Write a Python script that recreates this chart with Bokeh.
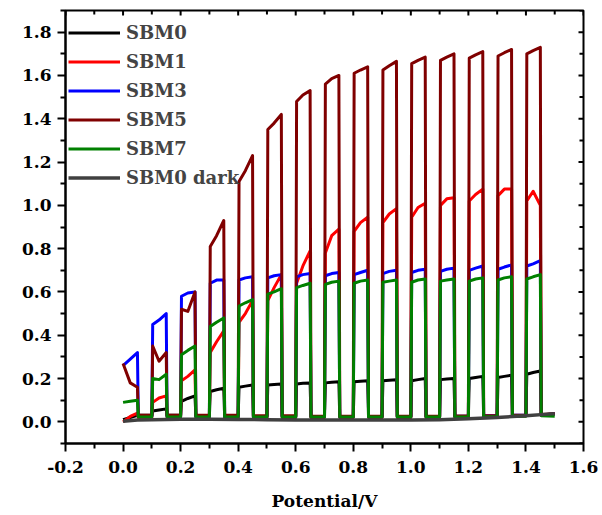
import math
from bokeh.plotting import figure
from bokeh.models import Range1d, FixedTicker, PrintfTickFormatter, Legend, LegendItem
from bokeh.embed import file_html
from bokeh.resources import INLINE

# ---------------- data ----------------
# potentials (V) where the light is switched on / off during the chopped sweep
pulse_on = [0.00, 0.10, 0.20, 0.30, 0.40, 0.50, 0.60, 0.70, 0.80, 0.90, 1.00, 1.10, 1.20, 1.30, 1.40]
pulse_off = [0.05, 0.15, 0.25, 0.35, 0.45, 0.55, 0.65, 0.75, 0.85, 0.95, 1.05, 1.15, 1.25, 1.35, 1.45]
sweep_end = 1.50

# current at start / middle / end of each light-on period, and dark level after each pulse (+ final)
sbm0_start = [0.010, 0.050, 0.095, 0.140, 0.160, 0.170, 0.175, 0.180, 0.185, 0.190, 0.190, 0.195, 0.200, 0.205, 0.220]
sbm0_mid   = [0.020, 0.055, 0.108, 0.148, 0.165, 0.172, 0.178, 0.183, 0.188, 0.192, 0.195, 0.198, 0.205, 0.210, 0.228]
sbm0_end   = [0.030, 0.060, 0.120, 0.155, 0.170, 0.175, 0.180, 0.185, 0.190, 0.195, 0.200, 0.200, 0.210, 0.215, 0.235]
sbm0_dark  = [0.030, 0.030, 0.025, 0.022, 0.020, 0.020, 0.020, 0.020, 0.020, 0.020, 0.020, 0.022, 0.025, 0.028, 0.032, 0.038]

sbm1_start = [0.000, 0.090, 0.190, 0.320, 0.460, 0.560, 0.640, 0.780, 0.880, 0.920, 0.945, 1.000, 1.020, 1.045, 1.020]
sbm1_mid   = [0.025, 0.110, 0.210, 0.370, 0.500, 0.620, 0.720, 0.860, 0.920, 0.960, 0.990, 1.030, 1.050, 1.075, 1.065]
sbm1_end   = [0.040, 0.120, 0.240, 0.420, 0.560, 0.680, 0.790, 0.890, 0.945, 0.985, 1.010, 1.035, 1.075, 1.075, 1.000]
sbm1_dark  = [0.020, 0.022, 0.022, 0.022, 0.022, 0.022, 0.022, 0.022, 0.022, 0.022, 0.022, 0.024, 0.026, 0.028, 0.032, 0.036]

sbm3_start = [0.260, 0.450, 0.580, 0.640, 0.655, 0.665, 0.670, 0.675, 0.680, 0.685, 0.690, 0.695, 0.700, 0.705, 0.720]
sbm3_mid   = [0.290, 0.470, 0.595, 0.655, 0.665, 0.675, 0.680, 0.685, 0.690, 0.695, 0.700, 0.705, 0.710, 0.715, 0.730]
sbm3_end   = [0.320, 0.500, 0.600, 0.655, 0.670, 0.680, 0.685, 0.690, 0.700, 0.700, 0.705, 0.710, 0.720, 0.725, 0.745]
sbm3_dark  = [0.025, 0.025, 0.025, 0.025, 0.025, 0.025, 0.025, 0.025, 0.025, 0.025, 0.025, 0.026, 0.028, 0.030, 0.032, 0.036]

sbm5_start = [0.270, 0.350, 0.520, 0.810, 1.110, 1.350, 1.480, 1.560, 1.610, 1.625, 1.655, 1.670, 1.680, 1.690, 1.700]
sbm5_mid   = [0.180, 0.280, 0.510, 0.860, 1.160, 1.380, 1.510, 1.585, 1.625, 1.645, 1.670, 1.685, 1.695, 1.705, 1.715]
sbm5_end   = [0.160, 0.320, 0.600, 0.930, 1.230, 1.420, 1.530, 1.600, 1.640, 1.665, 1.685, 1.700, 1.710, 1.720, 1.730]
sbm5_dark  = [0.030, 0.030, 0.030, 0.030, 0.028, 0.028, 0.026, 0.026, 0.026, 0.026, 0.026, 0.027, 0.028, 0.030, 0.034, 0.038]

sbm7_start = [0.090, 0.200, 0.310, 0.440, 0.535, 0.590, 0.620, 0.635, 0.640, 0.645, 0.645, 0.650, 0.650, 0.655, 0.660]
sbm7_mid   = [0.095, 0.195, 0.330, 0.460, 0.550, 0.600, 0.630, 0.645, 0.650, 0.650, 0.655, 0.655, 0.660, 0.665, 0.670]
sbm7_end   = [0.100, 0.220, 0.350, 0.480, 0.565, 0.615, 0.640, 0.650, 0.655, 0.655, 0.660, 0.660, 0.665, 0.670, 0.680]
sbm7_dark  = [0.022, 0.022, 0.022, 0.022, 0.022, 0.022, 0.022, 0.022, 0.022, 0.022, 0.022, 0.022, 0.024, 0.026, 0.028, 0.026]

# SBM0 measured in the dark
dark_x = [0.00, 0.05, 0.10, 0.20, 0.30, 0.40, 0.50, 0.60, 0.70, 0.80, 0.90, 1.00, 1.10, 1.20, 1.30, 1.40, 1.50]
dark_y = [0.003, 0.008, 0.010, 0.012, 0.012, 0.011, 0.010, 0.009, 0.008, 0.008, 0.008, 0.008, 0.010, 0.014, 0.020, 0.028, 0.038]

x_ticks = [-0.2, 0.0, 0.2, 0.4, 0.6, 0.8, 1.0, 1.2, 1.4, 1.6]
x_minor = [-0.1, 0.1, 0.3, 0.5, 0.7, 0.9, 1.1, 1.3, 1.5]
y_ticks = [0.0, 0.2, 0.4, 0.6, 0.8, 1.0, 1.2, 1.4, 1.6, 1.8]
y_minor = [-0.1, 0.1, 0.3, 0.5, 0.7, 0.9, 1.1, 1.3, 1.5, 1.7, 1.9]

X_START, X_END = -0.2, 1.6
Y_START, Y_END = -0.1, 1.9

# ---------------- helpers ----------------
EDGE = 0.003  # width of a light switching edge (V)


def chopped(start, mid, end, dark):
    xs, ys = [], []
    for i in range(len(pulse_on)):
        if i > 0:
            xs.append(pulse_on[i])
            ys.append(dark[i - 1])
            xs.append(pulse_on[i] + EDGE)
        else:
            xs.append(pulse_on[i])
        ys.append(start[i])
        xs.append((pulse_on[i] + pulse_off[i]) / 2)
        ys.append(mid[i])
        xs.append(pulse_off[i])
        ys.append(end[i])
        xs.append(pulse_off[i] + EDGE)
        ys.append(dark[i])
    xs.append(sweep_end)
    ys.append(dark[-1])
    return xs, ys


FONT = "DejaVu Serif"

p = figure(width=598, height=515, output_backend="svg", toolbar_location=None,
           x_range=Range1d(X_START, X_END), y_range=Range1d(Y_START, Y_END),
           min_border_left=65, min_border_top=10, min_border_right=15, min_border_bottom=72)
p.xgrid.visible = False
p.ygrid.visible = False
p.outline_line_color = "black"
p.outline_line_width = 2
p.background_fill_color = "white"
p.border_fill_color = "white"

series = [
    ("SBM0", "#000000", sbm0_start, sbm0_mid, sbm0_end, sbm0_dark),
    ("SBM1", "#ff0000", sbm1_start, sbm1_mid, sbm1_end, sbm1_dark),
    ("SBM3", "#0000ff", sbm3_start, sbm3_mid, sbm3_end, sbm3_dark),
    ("SBM5", "#800000", sbm5_start, sbm5_mid, sbm5_end, sbm5_dark),
    ("SBM7", "#008000", sbm7_start, sbm7_mid, sbm7_end, sbm7_dark),
]

items = []
for name, color, s, m, e, d in series:
    xs, ys = chopped(s, m, e, d)
    r = p.line(xs, ys, line_color=color, line_width=3, line_join="round")
    items.append(LegendItem(label=name, renderers=[r]))

rd = p.line(dark_x, dark_y, line_color="#404040", line_width=3.5, line_join="round")
items.append(LegendItem(label="SBM0 dark", renderers=[rd]))

legend = Legend(items=items, location=(0, 248), padding=3, margin=0, spacing=0,
                glyph_width=52, glyph_height=29, label_height=29, label_standoff=6,
                label_text_font=FONT, label_text_font_style="bold", label_text_font_size="18px",
                background_fill_alpha=0, border_line_alpha=0)
p.add_layout(legend, "center")

# inward ticks on the top and right frame edges
p.ray(x=x_ticks, y=[Y_END] * len(x_ticks), length=5, length_units="screen",
      angle=-math.pi / 2, line_color="black", line_width=2)
p.ray(x=x_minor, y=[Y_END] * len(x_minor), length=4, length_units="screen",
      angle=-math.pi / 2, line_color="black", line_width=2)
p.ray(x=[X_END] * len(y_ticks), y=y_ticks, length=5, length_units="screen",
      angle=math.pi, line_color="black", line_width=2)
p.ray(x=[X_END] * len(y_minor), y=y_minor, length=4, length_units="screen",
      angle=math.pi, line_color="black", line_width=2)

# axes
xa = p.xaxis[0]
xa.ticker = FixedTicker(ticks=x_ticks, minor_ticks=x_minor)
xa.formatter = PrintfTickFormatter(format="%.1f")
xa.axis_label = "Potential/V"
ya = p.yaxis[0]
ya.ticker = FixedTicker(ticks=y_ticks, minor_ticks=y_minor)
ya.formatter = PrintfTickFormatter(format="%.1f")

for ax in (xa, ya):
    ax.axis_line_width = 2
    ax.major_tick_line_width = 2
    ax.minor_tick_line_width = 2
    ax.major_tick_in = 0
    ax.minor_tick_in = 0
    ax.major_tick_out = 8
    ax.minor_tick_out = 5
    ax.major_label_text_font = FONT
    ax.major_label_text_font_style = "bold"
    ax.major_label_text_font_size = "17px"
    ax.major_label_text_color = "black"
    ax.axis_label_text_font = FONT
    ax.axis_label_text_font_style = "bold"
    ax.axis_label_text_font_size = "17px"
    ax.axis_label_text_color = "black"
xa.major_label_standoff = 9
xa.axis_label_standoff = 15
ya.major_label_standoff = 6

open("out.html", "w").write(file_html(p, INLINE))
